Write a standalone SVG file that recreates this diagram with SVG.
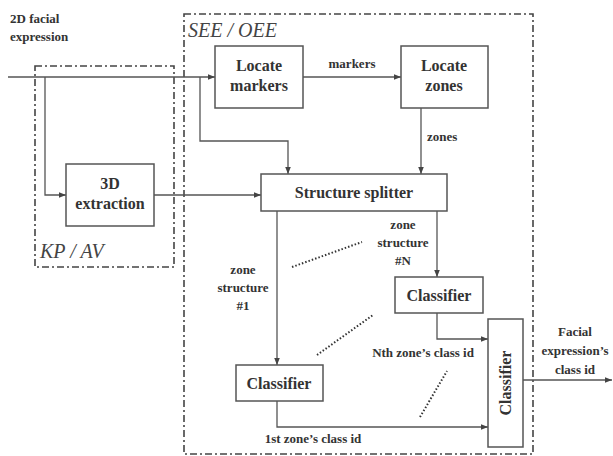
<svg xmlns="http://www.w3.org/2000/svg" width="613" height="456" viewBox="0 0 613 456" font-family="'Liberation Serif', 'DejaVu Serif', serif">
<defs>
<marker id="ah" viewBox="0 0 10 10" refX="10" refY="5" markerWidth="7" markerHeight="7" markerUnits="userSpaceOnUse" orient="auto"><path d="M0,1 L10,5 L0,9 z" fill="#444"/></marker>
</defs>
<style>
.box{fill:#fff;stroke:#555;stroke-width:1.5}
.bt{font-family:'Liberation Serif','DejaVu Serif',serif;font-weight:bold;font-size:16px;fill:#333;text-anchor:middle}
.lb{font-family:'Liberation Serif','DejaVu Serif',serif;font-weight:bold;font-size:13px;fill:#333}
.ct{text-anchor:middle}
.reg{fill:none;stroke:#444;stroke-width:1.6;stroke-dasharray:7 3 2 3}
.rl{font-family:'Liberation Serif','DejaVu Serif',serif;font-style:italic;font-size:20px;fill:#444}
.ln{fill:none;stroke:#555;stroke-width:1.3}
.dot{fill:none;stroke:#333;stroke-width:2;stroke-dasharray:1.5 2}
</style>
<rect width="613" height="456" fill="#fff"/>
<g id="regions">
<rect class="reg" x="184" y="14" width="349" height="440"/>
<text class="rl" x="188" y="37" font-family="Liberation Serif">SEE / OEE</text>
<rect class="reg" x="35" y="66" width="139" height="201"/>
<text class="rl" x="40" y="258" font-family="DejaVu Serif">KP / AV</text>
</g>
<g id="connectors">
<path class="ln" d="M8,77 H215" marker-end="url(#ah)"/>
<path class="ln" d="M45,77 V195 H66" marker-end="url(#ah)"/>
<path class="ln" d="M200,77 V141 H288 V174" marker-end="url(#ah)"/>
<path class="ln" d="M303,77 H401" marker-end="url(#ah)"/>
<path class="ln" d="M421,108 V174" marker-end="url(#ah)"/>
<path class="ln" d="M154,195 H261" marker-end="url(#ah)"/>
<path class="ln" d="M277,211 V365" marker-end="url(#ah)"/>
<path class="ln" d="M437,211 V277" marker-end="url(#ah)"/>
<path class="ln" d="M437,313 V339 H488" marker-end="url(#ah)"/>
<path class="ln" d="M277,401 V427 H488" marker-end="url(#ah)"/>
<path class="ln" d="M523,380 H612" marker-end="url(#ah)"/>
<path class="dot" d="M292,267 L362,242"/>
<path class="dot" d="M317,355 L373,315"/>
<path class="dot" d="M420,417 L447,371"/>
<text class="lb" x="10" y="23">2D facial</text>
<text class="lb" x="10" y="41">expression</text>
<text class="lb ct" x="352" y="68">markers</text>
<text class="lb" x="427" y="141">zones</text>
<text class="lb ct" x="403" y="229">zone</text>
<text class="lb ct" x="403" y="247">structure</text>
<text class="lb ct" x="403" y="265">#N</text>
<text class="lb ct" x="243" y="274">zone</text>
<text class="lb ct" x="243" y="292">structure</text>
<text class="lb ct" x="243" y="310">#1</text>
<text class="lb ct" x="423" y="357">Nth zone’s class id</text>
<text class="lb ct" x="313" y="443">1st zone’s class id</text>
<text class="lb ct" x="575" y="336">Facial</text>
<text class="lb ct" x="575" y="355">expression’s</text>
<text class="lb ct" x="575" y="374">class id</text>
</g>
<g id="locate-markers"><rect class="box" x="215" y="46" width="88" height="62"/><text class="bt" x="259" y="71">Locate</text><text class="bt" x="259" y="91">markers</text></g>
<g id="locate-zones"><rect class="box" x="401" y="46" width="87" height="62"/><text class="bt" x="444" y="71">Locate</text><text class="bt" x="444" y="91">zones</text></g>
<g id="extraction-3d"><rect class="box" x="66" y="164" width="88" height="62"/><text class="bt" x="110" y="189">3D</text><text class="bt" x="110" y="209">extraction</text></g>
<g id="structure-splitter"><rect class="box" x="261" y="174" width="186" height="37"/><text class="bt" x="354" y="198">Structure splitter</text></g>
<g id="classifier-n"><rect class="box" x="395" y="277" width="88" height="36"/><text class="bt" x="439" y="301">Classifier</text></g>
<g id="classifier-1"><rect class="box" x="236" y="365" width="87" height="36"/><text class="bt" x="279" y="389">Classifier</text></g>
<g id="classifier-final"><rect class="box" x="488" y="319" width="35" height="128"/><text class="bt" transform="translate(511,383) rotate(-90)" x="0" y="0">Classifier</text></g>
</svg>
